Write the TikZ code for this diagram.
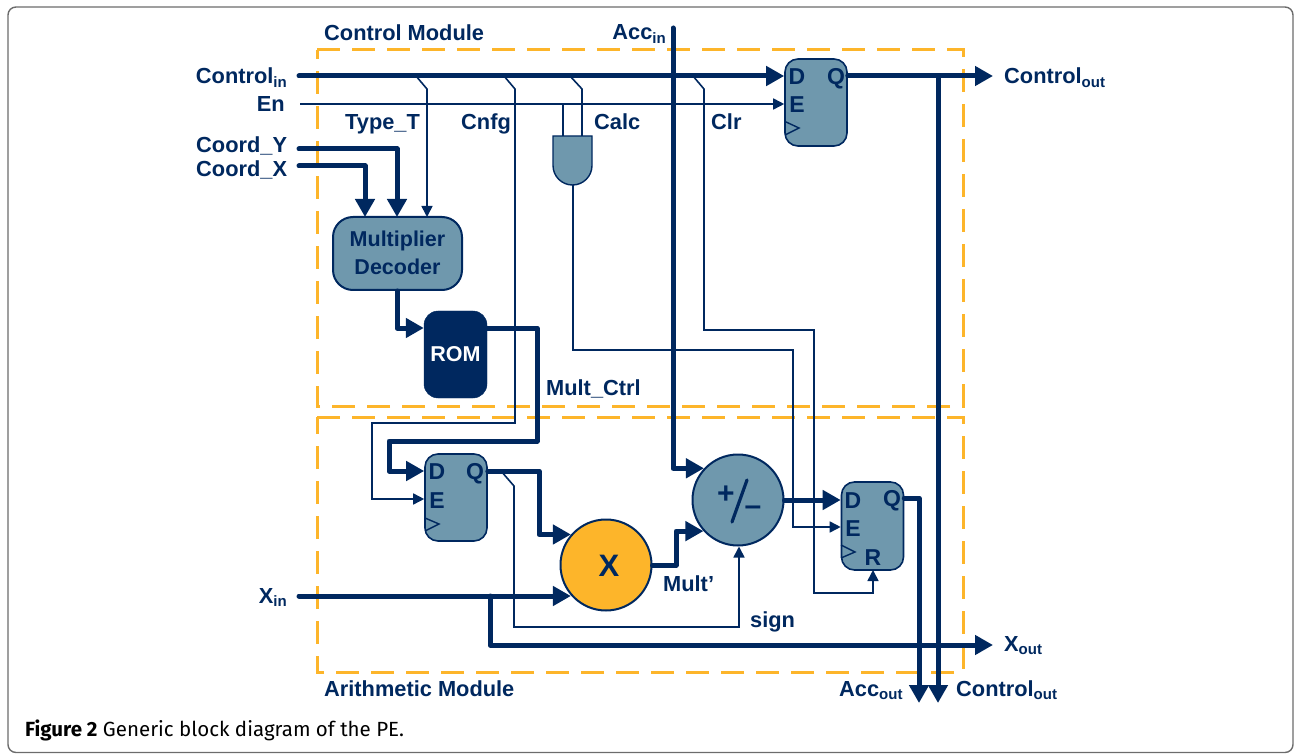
\documentclass[tikz,border=0pt]{standalone}
\usepackage{fontspec}
\setmainfont{Liberation Sans}
\newfontfamily\capfont{Fira Sans}
\usetikzlibrary{arrows.meta,calc}
\definecolor{navy}{HTML}{00285F}
\definecolor{teal2}{HTML}{6F98AD}
\definecolor{orng}{HTML}{FDB52A}
\newcommand{\lowsub}[1]{\raisebox{-3.5pt}{\fontsize{15}{16}\selectfont #1}}
\tikzset{
  fat/.style={draw=navy,line width=5pt,line join=round,line cap=round},
  fatarrow/.style={fat,-{Triangle[length=18pt,width=19pt]}},
  slim/.style={draw=navy,line width=1.6pt,line join=miter},
  slimarrow/.style={slim,-{Triangle[length=11pt,width=11pt]}},
  lab/.style={text=navy,font=\bfseries\fontsize{21.8}{24}\selectfont,inner sep=0pt},
  modbox/.style={draw=orng,line width=3pt,dash pattern=on 23pt off 12pt,line cap=butt},
  flop/.style={draw=navy,line width=1.6pt,fill=teal2,rounded corners=13pt,minimum width=62pt,minimum height=87pt,inner sep=0pt},
  blockbox/.style={draw=navy,line width=2pt,fill=teal2,rounded corners=20pt,inner sep=0pt,align=center},
  romblock/.style={draw=navy,fill=navy,rounded corners=14pt,inner sep=0pt,minimum width=63pt,minimum height=87pt},
  disc/.style={circle,draw=navy,line width=2pt,minimum size=91pt,inner sep=0pt},
  ffl/.style={lab,anchor=base,font=\bfseries\fontsize{23}{24}\selectfont},
}
\begin{document}
\begin{tikzpicture}[x=1pt,y=-1pt]
\useasboundingbox (0,0) rectangle (1294,754);
\draw[draw=gray!85!black,line width=1.4pt,rounded corners=8pt] (8,7) rectangle (1293,752.5);

% modules
\draw[modbox] (317,50) -- (963,50) -- (963,406) -- (317,406) -- cycle;
\draw[modbox] (317,417) -- (963,417) -- (963,672) -- (317,672) -- cycle;

% blocks
\node[blockbox,minimum width=129pt,minimum height=73pt,text=navy,font=\bfseries\fontsize{21.5}{26}\selectfont] (dec) at (397.5,253.5) {\raisebox{1pt}{Multiplier}\\[2pt]\raisebox{1pt}{Decoder}};
\node[romblock,text=white,font=\bfseries\fontsize{21.5}{24}\selectfont] (rom) at (455.5,354.5) {ROM};
\node[flop] (ffa) at (816,102.5) {};
\node[flop] (ffb) at (456,497.5) {};
\node[flop,minimum height=88pt] (ffc) at (872.5,526) {};
\node[disc,fill=orng] (mx) at (606,565) {};
\node[disc,fill=teal2] (pm) at (738,500) {};

% free ends
\coordinate (cin) at (299,76);
\coordinate (enin) at (300,104);
\coordinate (cy) at (299,149);
\coordinate (cx) at (299,166);
\coordinate (xin) at (299,596);
\coordinate (acin) at (673,28);
\coordinate (cout) at (993,76);
\coordinate (xout) at (993,645);
\coordinate (aout) at (919,703);
\coordinate (cout2) at (938,703);
\coordinate (tapT) at (416,76);
\coordinate (tapN) at (504,76);
\coordinate (tapC) at (570,76);
\coordinate (tapR) at (693,76);
\coordinate (tapQ) at (501,471);
\coordinate (tapX) at (490,596);
\coordinate (tapO) at (938,76);
\coordinate (dtx) at (365,217);
\coordinate (dty) at (397,217);
\coordinate (dtt) at (427,217);
\coordinate (andl) at (563,136);
\coordinate (andr) at (582,136);
\coordinate (ando) at (573,185);

% AND gate
\draw[navy,line width=1.4pt,fill=teal2] (553,136) -- (592,136) -- (592,165.5) arc[start angle=0,end angle=180,radius=19.5pt,y radius=-19.5pt] -- cycle;

% thick wires
\draw[fatarrow] (cin) -- (ffa.west |- cin);
\draw[fat] (ffa.east |- cin) -- (tapO);
\draw[fatarrow] (tapO) -- (cout);
\draw[fatarrow] (tapO) -- (cout2);
\draw[fatarrow] (cy) -| (dty);
\draw[fatarrow] (cx) -| (dtx);
\draw[fatarrow] (dty |- dec.south) |- (rom.west |- 0,328);
\draw[fatarrow] (rom.east |- 0,328) -- (537,328) -- (537,441) -- (389,441) -- (389,471) -- (ffb.west |- 0,471);
\draw[fatarrow] (ffb.east |- tapQ) -- (539,471) |- (mx.139);
\draw[fatarrow] (xin) -- (xin -| mx.221);
\draw[fatarrow] (tapX) |- (xout);
\draw[fatarrow] (mx.east) -- (676,565) |- (pm.222);
\draw[fatarrow] (acin) |- (pm.137);
\draw[fatarrow] (pm.east) -- (ffc.west |- pm.east);
\draw[fatarrow] (ffc.east |- 0,498) -| (aout);

% thin wires
\draw[slimarrow] (enin) -- (ffa.west |- enin);
\draw[slim] (andl |- enin) -- (andl);
\draw[slimarrow] (tapT) -- ++(11,13) -- (dtt);
\draw[slimarrow] (tapN) -- ++(11,13) -- (515,423) -- (372,423) |- (ffb.west |- 0,499);
\draw[slim] (tapC) -- ++(12,13) -- (andr);
\draw[slimarrow] (ando) -- (573,350) -- (793,350) |- (ffc.west |- 0,527);
\draw[slimarrow] (tapR) -- ++(11,13) -- (704,330) -- (814,330) -- (814,593) -| (873,570);
\draw[slimarrow] (tapQ) -- ++(13,15) |- (739,627) -- (pm.south -| 739,0);

% clock marks
\draw[navy,line width=1.4pt] (785,121.5) -- (799,128) -- (785,135);
\draw[navy,line width=1.4pt] (425,518) -- (439,524) -- (425,531);
\draw[navy,line width=1.4pt] (841,545) -- (855,552) -- (841,558);

% flip-flop letters
\node[ffl] (ad) at (797,85) {D};
\node[ffl] (aq) at (836,84.5) {Q};
\node[ffl] (ae) at (797,112.5) {E};
\node[ffl] (bd) at (437,479.5) {D};
\node[ffl] (bq) at (475,479.5) {Q};
\node[ffl] (be) at (437,508) {E};
\node[ffl] (cd) at (853,508) {D};
\node[ffl] (cq) at (892,506.5) {Q};
\node[ffl] (ce) at (853,536) {E};
\node[ffl] (cr) at (873,565) {R};

% operators
\node[lab,font=\bfseries\fontsize{31}{32}\selectfont] (xsym) at (609,566) {X};
\node[lab,font=\bfseries\fontsize{30}{32}\selectfont] (plus) at (726,495) {+};
\node[lab,font=\bfseries\fontsize{30}{32}\selectfont] (minus) at (753,511) {–};
\draw[navy,line width=3.2pt,line cap=round] (747,480) -- (732,522);

% labels
\node[lab,anchor=base west] (l1) at (324,40.5) {Control Module};
\node[lab,anchor=base west] (l2) at (324,696.5) {Arithmetic Module};
\node[lab,anchor=base east] (l3) at (287,84) {Control\lowsub{in}};
\node[lab,anchor=base east] (l4) at (285,111.5) {En};
\node[lab,anchor=base west] (l5) at (345,130) {Type\_T};
\node[lab,anchor=base west] (l6) at (461,130) {Cnfg};
\node[lab,anchor=base west] (l7) at (594,130) {Calc};
\node[lab,anchor=base west] (l8) at (711,130) {Clr};
\node[lab,anchor=base west] (l9) at (196,153) {Coord\_Y};
\node[lab,anchor=base west] (l10) at (196,177) {Coord\_X};
\node[lab,anchor=base east] (l11) at (666,40) {Acc\lowsub{in}};
\node[lab,anchor=base west] (l12) at (1004,84) {Control\lowsub{out}};
\node[lab,anchor=base west] (l13) at (546,395.5) {Mult\_Ctrl};
\node[lab,anchor=base west] (l14) at (663,591) {Mult’};
\node[lab,anchor=base west] (l15) at (750,627) {sign};
\node[lab,anchor=base east] (l16) at (287,603) {X\lowsub{in}};
\node[lab,anchor=base west] (l17) at (1004,651) {X\lowsub{out}};
\node[lab,anchor=base west] (l18) at (839,696) {Acc\lowsub{out}};
\node[lab,anchor=base west] (l19) at (956,696) {Control\lowsub{out}};
\node[anchor=base west,inner sep=0pt,font=\capfont\fontsize{20.5}{22}\selectfont] (cap) at (25,736) {\textbf{Figure 2} Generic block diagram of the PE.};
\end{tikzpicture}
\end{document}
